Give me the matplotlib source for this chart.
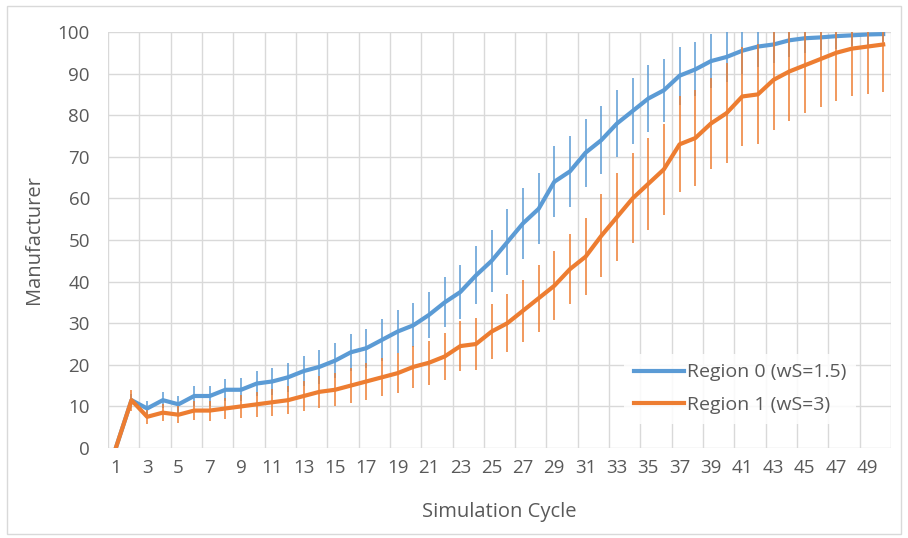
import matplotlib.pyplot as plt
from matplotlib.patches import Rectangle
from matplotlib.lines import Line2D
import numpy as np

plt.rcParams['font.family'] = ['Open Sans', 'DejaVu Sans']

# Datos
ciclos = list(range(1, 51))

region0 = [0, 11.5, 9.5, 11.5, 10.5, 12.5, 12.5, 14, 14, 15.5,
           16, 17, 18.5, 19.5, 21, 23, 24, 26, 28, 29.5,
           32, 35, 37.5, 41.5, 45, 49.5, 54, 57.5, 64, 66.5,
           71, 74, 78, 81, 84, 86, 89.5, 91, 93, 94,
           95.5, 96.5, 97, 98, 98.5, 98.7, 99, 99.2, 99.4, 99.5]
err0 = [0, 1.5, 1.8, 2, 2, 2.3, 2.5, 2.7, 2.8, 3,
        3.2, 3.5, 3.7, 4, 4.2, 4.5, 4.7, 5, 5.2, 5.3,
        5.5, 6, 6.5, 7, 7.5, 8, 8.5, 8.5, 8.5, 8.5,
        8.2, 8.2, 8, 8, 8, 7.6, 7, 6.5, 6.5, 6,
        5.5, 5, 4.5, 4, 3.5, 3, 3, 2.5, 2.5, 2]

region1 = [0, 11.5, 7.5, 8.5, 8, 9, 9, 9.5, 10, 10.5,
           11, 11.5, 12.5, 13.5, 14, 15, 16, 17, 18, 19.5,
           20.5, 22, 24.5, 25, 28, 30, 33, 36, 39, 43,
           46, 51, 55.5, 60, 63.5, 67, 73, 74.5, 78, 80.5,
           84.5, 85, 88.5, 90.5, 92, 93.5, 95, 96, 96.5, 97]
err1 = [0, 2.5, 1.7, 2, 2, 2.2, 2.4, 2.6, 2.8, 3,
        3.2, 3.4, 3.6, 3.8, 4, 4.2, 4.4, 4.6, 4.8, 5,
        5.3, 5.6, 6, 6.3, 6.7, 7, 7.5, 8, 8.3, 8.5,
        9.3, 10, 10.5, 10.8, 11, 11, 11.5, 11.5, 11, 12,
        12, 12, 12, 12, 11.5, 11.5, 11.5, 11.5, 11.5, 11.5]

etiquetas = ['Region 0 (wS=1.5)', 'Region 1 (wS=3)']

azul = '#5B9BD5'
naranja = '#ED7D31'
gris = '#595959'

fig = plt.figure(figsize=(9.08, 5.38), dpi=100)
fig.patches.append(Rectangle((7 / 908, 4 / 538), 894 / 908, 528 / 538,
                             transform=fig.transFigure, fill=False,
                             edgecolor='#D9D9D9', linewidth=1))
ax = fig.add_axes([108 / 908, 1 - 448 / 538, 783 / 908, 416 / 538])

ax.errorbar(ciclos, region0, yerr=err0, color=azul, ecolor=azul,
            linewidth=3, elinewidth=1.1, capsize=0, zorder=3)
ax.errorbar(ciclos, region1, yerr=err1, color=naranja, ecolor=naranja,
            linewidth=3, elinewidth=1.1, capsize=0, zorder=4)

ax.set_xlim(0.5, 50.5)
ax.set_ylim(0, 100)
ax.set_xticks(ciclos[::2])
ax.set_xticks(np.arange(0.5, 51, 2), minor=True)
ax.set_yticks(range(0, 101, 10))
ax.grid(True, which='minor', axis='x', color='#D9D9D9', linewidth=1)
ax.grid(True, which='major', axis='y', color='#D9D9D9', linewidth=1)
ax.set_axisbelow(True)
ax.tick_params(which='both', length=0, labelsize=13.5, colors=gris)
ax.tick_params(axis='y', pad=13)
ax.tick_params(axis='x', pad=8)
for s in ax.spines.values():
    s.set_visible(False)

ax.set_xlabel('Simulation Cycle', fontsize=14.5, color=gris, labelpad=18)
ax.set_ylabel('Manufacturer', fontsize=14.5, color=gris, labelpad=10)

handles = [Line2D([], [], color=azul, linewidth=3),
           Line2D([], [], color=naranja, linewidth=3)]
leg = ax.legend(handles, etiquetas, loc='lower right',
                bbox_to_anchor=(0.968, 0.035), frameon=True,
                fontsize=14, handlelength=2.6, handletextpad=0.15,
                labelspacing=0.75, borderpad=0.5)
leg.get_frame().set_facecolor('white')
leg.get_frame().set_edgecolor('none')
leg.get_frame().set_alpha(0.85)
for t in leg.get_texts():
    t.set_color(gris)

plt.savefig('out.png', dpi=100)
plt.close()
